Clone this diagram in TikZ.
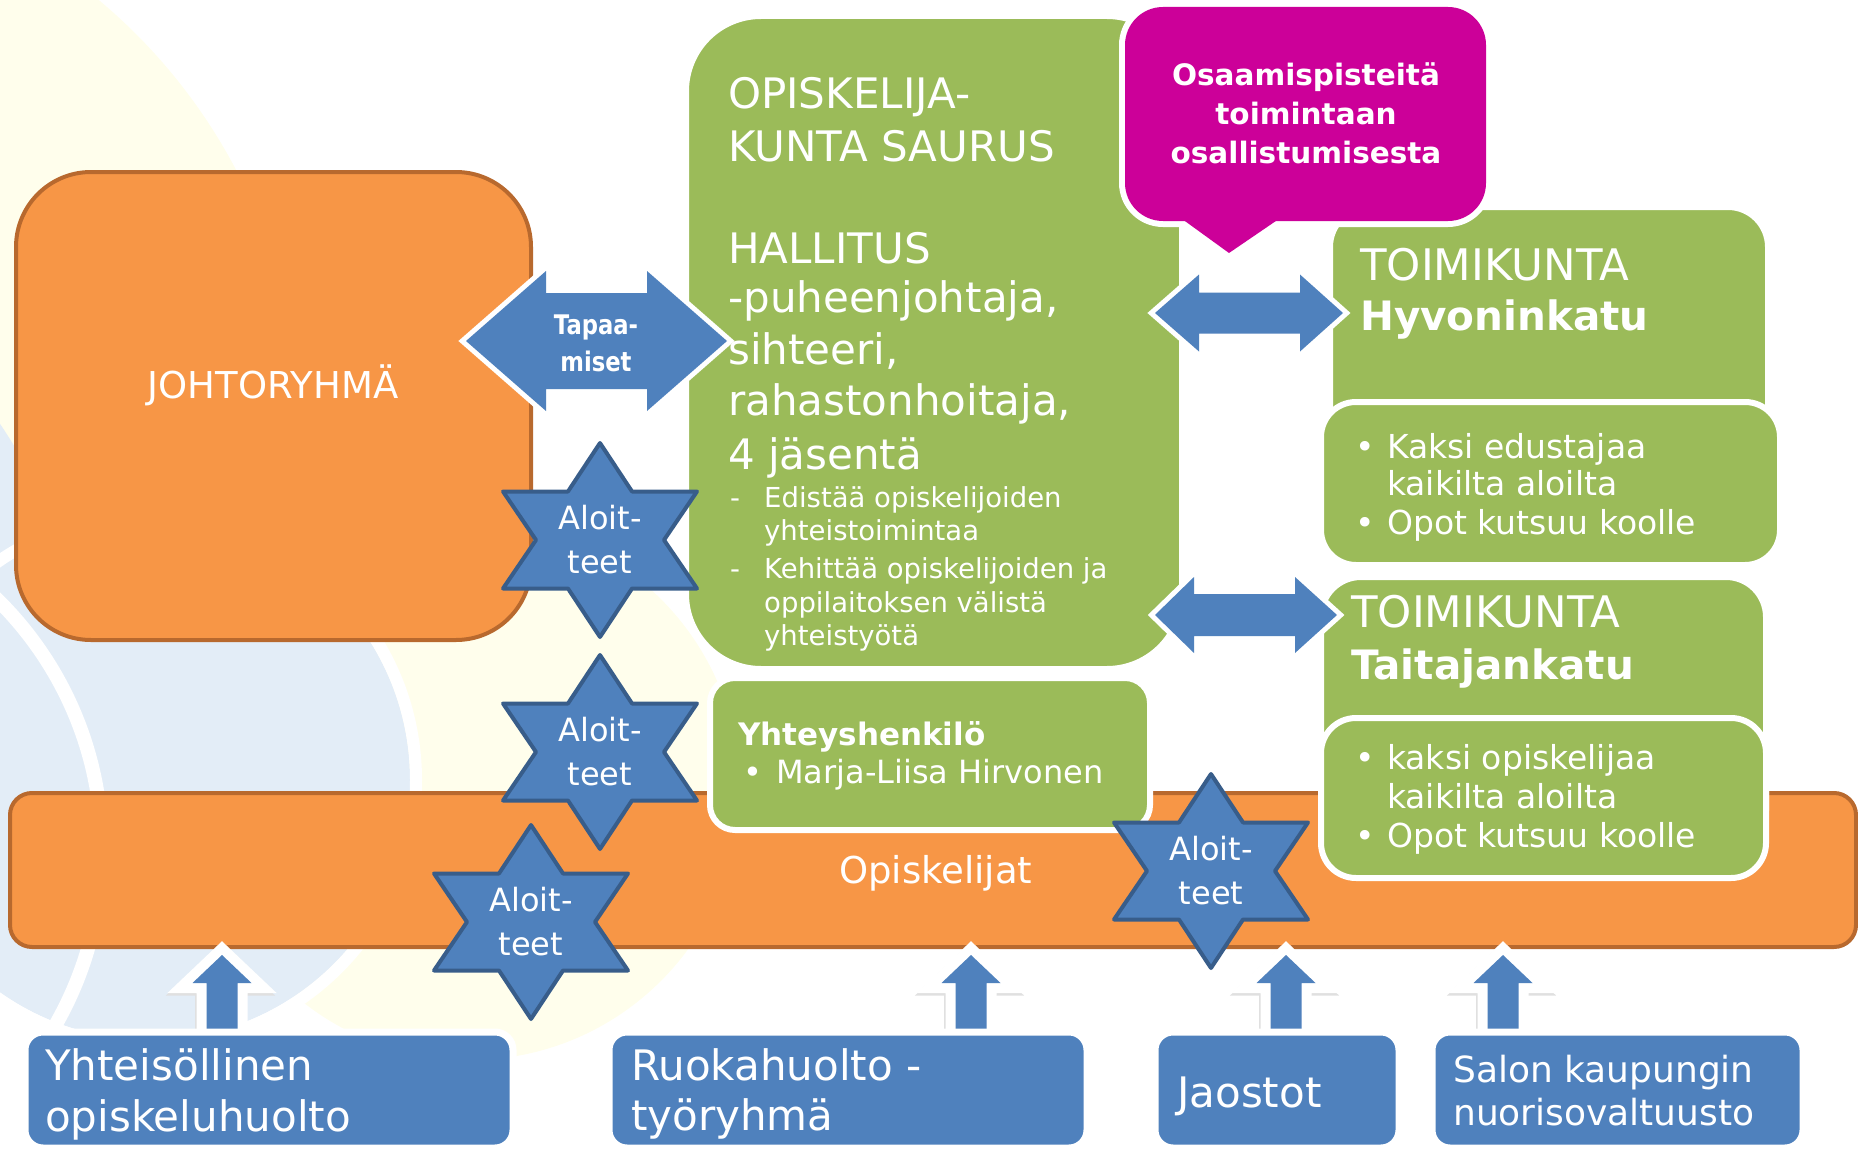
\documentclass[tikz,border=0pt]{standalone}
\usepackage{fontspec}
\setmainfont{DejaVu Sans}
\newfontfamily\narrowfont[FakeStretch=0.84]{DejaVu Sans}
\definecolor{orng}{HTML}{F79646}
\definecolor{orngb}{HTML}{B8692E}
\definecolor{grn}{HTML}{9BBB59}
\definecolor{blu}{HTML}{4F81BD}
\definecolor{blub}{HTML}{385D8A}
\definecolor{mag}{HTML}{CC0099}
\definecolor{bgyel}{HTML}{FFFEEC}
\definecolor{bgblu}{HTML}{E3EDF7}
\newcommand\fsz[2]{\fontsize{#1}{#2}\selectfont}
\newcommand\hexstar[1]{\draw[starshape, shift={(#1)}] (0,-97) -- (32,-48.5) -- (97,-48.5) -- (64,0) -- (97,48.5) -- (32,48.5) -- (0,97) -- (-32,48.5) -- (-97,48.5) -- (-64,0) -- (-97,-48.5) -- (-32,-48.5) -- cycle;}
\newcommand\dblarr[7]{\fill[blockarrow] (#1,#5) -- (#2,#5-#7) -- (#2,#5-#6) -- (#3,#5-#6) -- (#3,#5-#7) -- (#4,#5) -- (#3,#5+#7) -- (#3,#5+#6) -- (#2,#5+#6) -- (#2,#5+#7) -- cycle;}
\newcommand\uparr[1]{\fill[uparrowsty] (#1,955) -- (#1+29.5,983) -- (#1+15.5,983) -- (#1+15.5,1034) -- (#1-15.5,1034) -- (#1-15.5,983) -- (#1-29.5,983) -- cycle;}
\tikzset{
 box/.style={anchor=north west, inner sep=0, outer sep=0},
 orangebox/.style={box, fill=orng, draw=orngb, line width=4},
 greenbox/.style={box, fill=grn, draw=white, line width=6},
 bluebox/.style={box, fill=blu, draw=white, line width=7},
 wtxt/.style={text=white, inner sep=0, anchor=base west},
 blockarrow/.style={fill=blu, preaction={draw=white, line width=10, line join=miter}},
 uparrowsty/.style={fill=blu,
   preaction={draw=black!12, line width=20, line join=miter, transform canvas={xshift=-1.5pt, yshift=-2.5pt}},
   preaction={draw=white, line width=20, line join=miter}},
 starshape/.style={fill=blu, draw=blub, line width=4, line join=round},
 startxt/.style={text=white, inner sep=0, anchor=center, align=center, font=\fsz{32}{44}},
}
\begin{document}
\begin{tikzpicture}[x=1pt, y=-1pt]
\useasboundingbox (0,0) rectangle (1858,1153);
\clip (0,0) rectangle (1858,1153);
% background
\fill[bgyel] (-260,430) circle[radius=560];
\fill[bgyel] (470,790) circle[radius=270];
\fill[bgblu] (-330,650) circle[radius=400];
\fill[bgblu] (150,780) circle[radius=260];
\draw[white, line width=14] (-250,850) circle[radius=352];
\draw[white, line width=12] (150,780) circle[radius=266];

% Opiskelijat bar
\node[orangebox, rounded corners=22, minimum width=1846, minimum height=154] (opisk) at (10,793) {};
\node[wtxt, font=\fsz{37}{44}] (opisktxt) at (839,883) {Opiskelijat};

% Johtoryhma
\node[orangebox, rounded corners=75, minimum width=515, minimum height=468] (johto) at (16,172) {};
\node[text=white, inner sep=0, anchor=base, font=\fsz{37}{44}] (johtotxt) at (273,398) {JOHTORYHMÄ};

% big green box
\node[greenbox, rounded corners=75, minimum width=496, minimum height=653] (saurus) at (686,16) {};
\node[wtxt, font=\fsz{42}{51}] (sa1) at (728,109) {OPISKELIJA-};
\node[wtxt, font=\fsz{42}{51}] (sa2) at (728,161) {KUNTA SAURUS};
\node[wtxt, font=\fsz{42}{51}] (sa3) at (728,263) {HALLITUS};
\node[wtxt, font=\fsz{42}{51}] (sa4) at (728,312) {-puheenjohtaja,};
\node[wtxt, font=\fsz{42}{51}] (sa5) at (728,364) {sihteeri,};
\node[wtxt, font=\fsz{42}{51}] (sa6) at (728,415) {rahastonhoitaja,};
\node[wtxt, font=\fsz{42}{51}] (sa7) at (728,469) {4 jäsentä};
\node[wtxt, font=\fsz{27.5}{34}] (d1) at (730,507) {-};
\node[wtxt, font=\fsz{27.5}{34}] (b1) at (764,507) {Edistää opiskelijoiden};
\node[wtxt, font=\fsz{27.5}{34}] (b2) at (764,540) {yhteistoimintaa};
\node[wtxt, font=\fsz{27.5}{34}] (d2) at (730,578) {-};
\node[wtxt, font=\fsz{27.5}{34}] (b3) at (764,578) {Kehittää opiskelijoiden ja};
\node[wtxt, font=\fsz{27.5}{34}] (b4) at (764,612) {oppilaitoksen välistä};
\node[wtxt, font=\fsz{27.5}{34}] (b5) at (764,645) {yhteistyötä};

% Yhteyshenkilo
\node[greenbox, rounded corners=25, minimum width=440, minimum height=152] (yht) at (710,678) {};
\node[wtxt, font=\bfseries\fsz{31}{38}] (yhttxt) at (738,745) {Yhteyshenkilö};
\node[wtxt, font=\fsz{32}{38}] (yhtb) at (743,783) {•};
\node[wtxt, font=\fsz{32}{38}] (yhtn) at (776,783) {Marja-Liisa Hirvonen};

% Toimikunta Hyvoninkatu
\node[greenbox, rounded corners=40, minimum width=438, minimum height=338] (hyv) at (1330,207) {};
\node[wtxt, font=\fsz{43.5}{50}] (hyv1) at (1360,280) {TOIMIKUNTA};
\node[wtxt, font=\bfseries\fsz{40.5}{50}] (hyv2) at (1360,330) {Hyvoninkatu};
\node[greenbox, rounded corners=35, minimum width=459, minimum height=163] (hyvin) at (1321,402) {};
\node[wtxt, font=\fsz{33}{38}] (hb1) at (1355,458) {•};
\node[wtxt, font=\fsz{33}{38}] (ht1) at (1387,458) {Kaksi edustajaa};
\node[wtxt, font=\fsz{33}{38}] (ht2) at (1387,495) {kaikilta aloilta};
\node[wtxt, font=\fsz{33}{38}] (hb2) at (1355,534) {•};
\node[wtxt, font=\fsz{33}{38}] (ht3) at (1387,534) {Opot kutsuu koolle};

% Toimikunta Taitajankatu
\node[greenbox, rounded corners=40, minimum width=445, minimum height=273] (tai) at (1321,577) {};
\node[wtxt, font=\fsz{43.5}{50}] (tai1) at (1351,627) {TOIMIKUNTA};
\node[wtxt, font=\bfseries\fsz{40.5}{50}] (tai2) at (1351,679) {Taitajankatu};
\node[greenbox, rounded corners=35, minimum width=445, minimum height=160] (taiin) at (1321,718) {};
\node[wtxt, font=\fsz{33}{38}] (tb1) at (1355,769) {•};
\node[wtxt, font=\fsz{33}{38}] (tt1) at (1387,769) {kaksi opiskelijaa};
\node[wtxt, font=\fsz{33}{38}] (tt2) at (1387,808) {kaikilta aloilta};
\node[wtxt, font=\fsz{33}{38}] (tb2) at (1355,847) {•};
\node[wtxt, font=\fsz{33}{38}] (tt3) at (1387,847) {Opot kutsuu koolle};

% up arrows
\uparr{222}
\uparr{971}
\uparr{1286}
\uparr{1503}

% bottom boxes
\node[bluebox, rounded corners=18, minimum width=488, minimum height=116] (yhteis) at (25,1032) {};
\node[wtxt, font=\fsz{42}{50}] (yt1) at (45,1080) {Yhteisöllinen};
\node[wtxt, font=\fsz{42}{50}] (yt2) at (45,1131) {opiskeluhuolto};
\node[bluebox, rounded corners=18, minimum width=478, minimum height=116] (ruoka) at (609,1032) {};
\node[wtxt, font=\fsz{42}{50}] (rt1) at (631,1080) {Ruokahuolto -};
\node[wtxt, font=\fsz{42}{50}] (rt2) at (631,1130) {työryhmä};
\node[bluebox, rounded corners=18, minimum width=244, minimum height=116] (jaos) at (1155,1032) {};
\node[wtxt, font=\fsz{42}{50}] (jt1) at (1177,1107) {Jaostot};
\node[bluebox, rounded corners=18, minimum width=371, minimum height=116] (salo) at (1432,1032) {};
\node[wtxt, font=\fsz{36}{44}] (st1) at (1453,1082) {Salon kaupungin};
\node[wtxt, font=\fsz{36}{44}] (st2) at (1453,1125) {nuorisovaltuusto};

% stars
\hexstar{600,540}
\node[startxt] (star1) at (600,540) {Aloit-\\teet};
\hexstar{600,752}
\node[startxt] (star2) at (600,752) {Aloit-\\teet};
\hexstar{531,922}
\node[startxt] (star3) at (531,922) {Aloit-\\teet};
\hexstar{1211,871}
\node[startxt] (star4) at (1211,871) {Aloit-\\teet};

% double arrows
\dblarr{466}{546}{647}{727}{341}{48}{70}
\node[text=white, inner sep=0, anchor=base, font=\narrowfont\bfseries\fsz{27}{38}] (tap1) at (596,334) {Tapaa-};
\node[text=white, inner sep=0, anchor=base, font=\narrowfont\bfseries\fsz{27}{38}] (tap2) at (596,371) {miset};
\dblarr{1155}{1199}{1300}{1343}{313}{20.5}{38.5}
\dblarr{1155}{1194}{1295}{1337}{615}{21}{38}

% magenta callout
\draw[white, line width=12, rounded corners=38] (1125,7) rectangle (1486,221);
\draw[white, line width=12, line join=miter] (1149,195) -- (1229,253) -- (1314,195);
\fill[mag, rounded corners=38] (1125,7) rectangle (1486,221);
\fill[mag] (1149,195) -- (1229,253) -- (1314,195) -- cycle;
\node[text=white, inner sep=0, anchor=base, font=\bfseries\fsz{29.5}{39}] (osa1) at (1306,86) {Osaamispisteitä};
\node[text=white, inner sep=0, anchor=base, font=\bfseries\fsz{29.5}{39}] (osa2) at (1306,125) {toimintaan};
\node[text=white, inner sep=0, anchor=base, font=\bfseries\fsz{29.5}{39}] (osa3) at (1306,164) {osallistumisesta};
\end{tikzpicture}
\end{document}
